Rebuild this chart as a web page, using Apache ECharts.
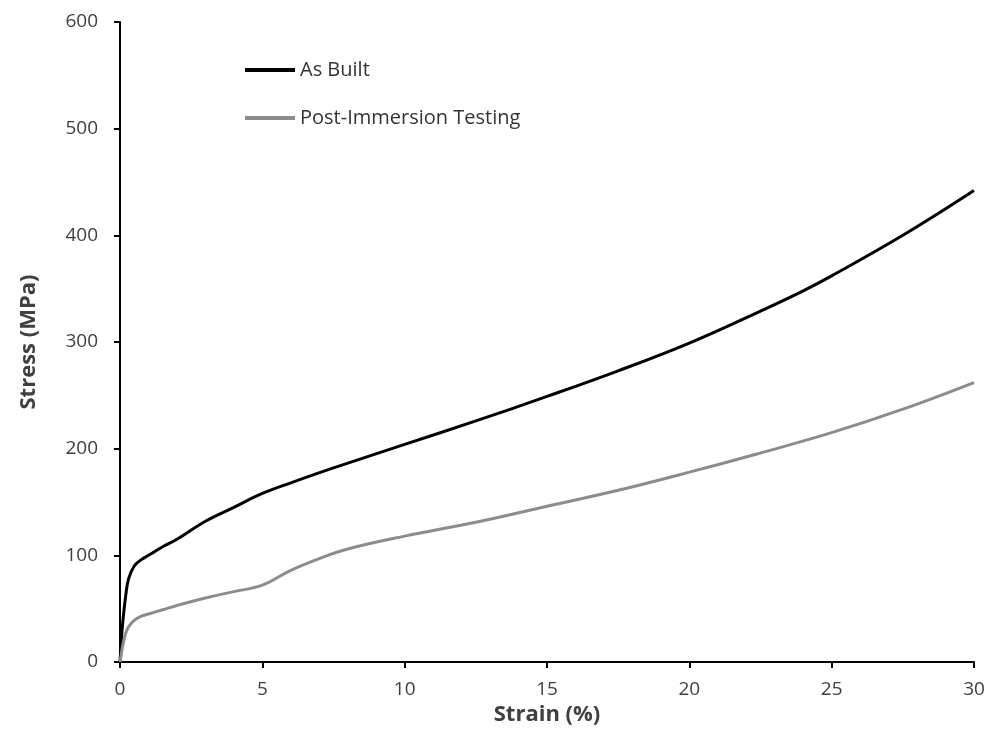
<!DOCTYPE html>
<html>
<head>
<meta charset="utf-8">
<script src="https://cdn.jsdelivr.net/npm/echarts@6/dist/echarts.min.js"></script>
<style>
html,body{margin:0;padding:0;background:#fff;}
#c1{width:990px;height:745px;}
</style>
</head>
<body>
<div id="c1"></div>
<script>
// 数据
var strainBuilt = [0, 0.05, 0.1, 0.2, 0.3, 0.5, 0.75, 1, 1.5, 2, 3, 4, 5, 6, 7.5, 10, 12.5, 15, 17.5, 20, 22.5, 24, 25, 27.5, 30];
var stressBuilt = [0, 22, 38, 62, 78, 90, 96, 100, 108, 115, 132, 145, 158, 168, 182, 204, 226, 249, 273, 299, 329, 348, 362, 400, 442];
var strainImm = [0, 0.05, 0.1, 0.2, 0.3, 0.5, 0.75, 1, 1.5, 2, 3, 4, 5, 6, 7, 8, 10, 12.5, 15, 17.5, 20, 22.5, 25, 27.5, 30];
var stressImm = [0, 8, 16, 27, 33, 39, 43, 45, 49, 53, 60, 66, 72, 86, 97, 106, 118, 131, 146, 161, 178, 196, 215, 237, 262];
var seriesNames = ['As Built', 'Post-Immersion Testing'];

function pairs(xs, ys){
  var arr = [];
  for(var i=0; i<xs.length; ++i){
    arr.push([xs[i], ys[i]]);
  }
  return arr
}

var chart = echarts.init(document.getElementById('c1'));
var font = 'Open Sans';
var option = {
  animation:false,
  backgroundColor:'#fff',
  grid:{left:120, right:16, top:22, bottom:83},
  legend:{
    orient:'vertical',
    left:240,
    top:55,
    itemGap:28,
    itemWidth:50,
    itemHeight:4,
    textStyle:{color:'#333', fontSize:20, fontFamily:font},
    data:[{name:seriesNames[0], icon:'rect'},{name:seriesNames[1], icon:'rect'}]
  },
  xAxis:{
    type:'value', min:0, max:30, interval:5,
    name:'Strain (%)', nameLocation:'middle', nameGap:36,
    nameTextStyle:{fontSize:22, fontWeight:'bold', color:'#404040', fontFamily:font},
    axisLine:{lineStyle:{color:'#000', width:2}},
    axisTick:{show:true, inside:false, length:6, lineStyle:{color:'#000', width:2}},
    axisLabel:{fontSize:19, color:'#404040', margin:18, fontFamily:font},
    splitLine:{show:false}
  },
  yAxis:{
    type:'value', min:0, max:600, interval:100,
    name:'Stress (MPa)', nameLocation:'middle', nameGap:80, nameRotate:90,
    nameTextStyle:{fontSize:22, fontWeight:'bold', color:'#404040', fontFamily:font},
    axisLine:{show:true, lineStyle:{color:'#000', width:2}},
    axisTick:{show:true, inside:false, length:6, lineStyle:{color:'#000', width:2}},
    axisLabel:{fontSize:19, color:'#404040', margin:22, fontFamily:font},
    splitLine:{show:false}
  },
  series:[
    {
      name:seriesNames[0], type:'line', symbol:'none',
      smooth:0.4,
      itemStyle:{color:'#000'},
      lineStyle:{color:'#000', width:3},
      data:pairs(strainBuilt, stressBuilt)
    },
    {
      name:seriesNames[1], type:'line', symbol:'none',
      smooth:0.4,
      itemStyle:{color:'#8c8c8c'},
      lineStyle:{color:'#8c8c8c', width:3},
      data:pairs(strainImm, stressImm)
    }
  ]
};
chart.setOption(option);
</script>
</body>
</html>
